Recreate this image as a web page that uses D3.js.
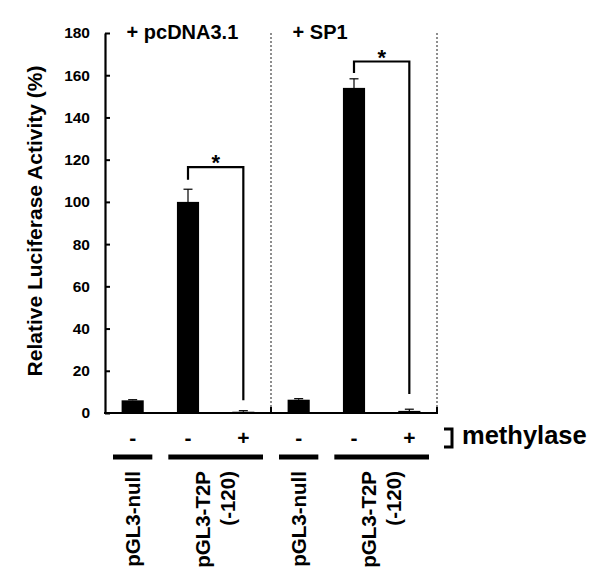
<!DOCTYPE html>
<html><head><meta charset="utf-8">
<script src="https://cdn.jsdelivr.net/npm/d3@7"></script>
<style>
body{margin:0;background:#fff}
text{font-family:"Liberation Sans",Arial,sans-serif;font-weight:bold;fill:#000}
</style>
</head><body><svg id="c" width="600" height="586"></svg>
<script>
// ---- data ----
const panels = ["+ pcDNA3.1", "+ SP1"];
const barIds = ["null-a", "t2p-minus-a", "t2p-plus-a", "null-b", "t2p-minus-b", "t2p-plus-b"];
const barPanel = [0, 0, 0, 1, 1, 1];
const methylase = ["-", "-", "+", "-", "-", "+"];
const values = [6.0, 100.0, 0.6, 6.3, 154.0, 1.0];
const errors = [0.3, 6.0, 0.5, 0.5, 4.3, 0.8];
const yTicks = [0, 20, 40, 60, 80, 100, 120, 140, 160, 180];
const constructLabels = [["pGL3-null"], ["pGL3-T2P", "(-120)"], ["pGL3-null"], ["pGL3-T2P", "(-120)"]];
const constructFrom = [0, 1, 3, 4];
const constructTo = [0, 2, 3, 5];
const sigFrom = [1, 4];
const sigTo = [2, 5];
const sigTop = [116.5, 166.5];
const sigLeftEnd = [110.5, 161];
const sigRightEnd = [6, 9];
const sigLabel = ["*", "*"];
const yTitle = "Relative Luciferase Activity (%)";
const methylaseLabel = "methylase";

// ---- scales ----
const svg = d3.select("#c");
const x = d3.scaleBand().domain(barIds).range([105, 437]).paddingInner(0.6).paddingOuter(0.3);
const y = d3.scaleLinear().domain([0, 180]).range([413, 33]);
const step = x.step();
const slotLeft = i => x(barIds[i]) - x.paddingOuter() * step;
const cx = i => x(barIds[i]) + x.bandwidth() / 2;

// dotted panel dividers
const dividerX = panels.map((p, pi) => {
  const last = barPanel.lastIndexOf(pi);
  return slotLeft(last) + step;
});
svg.selectAll(".div").data(dividerX).join("line")
  .attr("x1", d => d).attr("x2", d => d)
  .attr("y1", y(180)).attr("y2", y(0) - 5)
  .attr("stroke", "#444").attr("stroke-width", 1.2).attr("stroke-dasharray", "2,2");

// bars
svg.selectAll(".bar").data(values).join("rect")
  .attr("x", (d, i) => x(barIds[i]))
  .attr("width", x.bandwidth())
  .attr("y", d => y(d))
  .attr("height", d => y(0) - y(d))
  .attr("fill", "#000");

// error bars
const eg = svg.append("g").attr("stroke", "#000").attr("stroke-width", 1.2);
values.forEach((v, i) => {
  eg.append("line").attr("x1", cx(i)).attr("x2", cx(i)).attr("y1", y(v)).attr("y2", y(v + errors[i]));
  eg.append("line").attr("x1", cx(i) - 4.5).attr("x2", cx(i) + 4.5).attr("y1", y(v + errors[i])).attr("y2", y(v + errors[i]));
});

// y axis
const ya = svg.append("g").attr("transform", "translate(105,0)")
  .call(d3.axisLeft(y).tickValues(yTicks).tickSizeInner(-5).tickSizeOuter(0).tickPadding(15));
ya.select(".domain").attr("stroke-width", 2.2);
ya.selectAll(".tick line").attr("stroke-width", 2);
ya.selectAll(".tick text").style("font-size", "15.5px").style("font-family", "'Liberation Sans',Arial,sans-serif").style("font-weight", "bold");

// x baseline
svg.append("line").attr("x1", 104).attr("x2", 437 + 1).attr("y1", y(0)).attr("y2", y(0))
  .attr("stroke", "#000").attr("stroke-width", 2.2);
svg.selectAll(".xt").data(dividerX).join("line")
  .attr("x1", d => d).attr("x2", d => d).attr("y1", y(0)).attr("y2", y(0) - 6)
  .attr("stroke", "#000").attr("stroke-width", 2);

// y title
svg.append("text").attr("transform", `translate(42,${(y(0) + y(180)) / 2 - 2}) rotate(-90)`)
  .attr("text-anchor", "middle").style("font-size", "21px").text(yTitle);

// panel headers
svg.selectAll(".hdr").data(panels).join("text")
  .attr("x", (d, pi) => x(barIds[barPanel.indexOf(pi)]) + 5)
  .attr("y", 39).style("font-size", "20px").text(d => d);

// significance brackets
const sg = svg.append("g").attr("fill", "none").attr("stroke", "#000").attr("stroke-width", 2.2);
sigFrom.forEach((f, k) => {
  const x1 = cx(f), x2 = cx(sigTo[k]);
  sg.append("path").attr("d", `M${x1},${y(sigLeftEnd[k])}V${y(sigTop[k])}H${x2}V${y(sigRightEnd[k])}`);
  svg.append("text").attr("x", (x1 + x2) / 2).attr("y", y(sigTop[k]) + 3)
    .attr("text-anchor", "middle").style("font-size", "22px").text(sigLabel[k]);
});

// methylase -/+ row
svg.selectAll(".meth").data(methylase).join("text")
  .attr("x", (d, i) => cx(i)).attr("y", 445)
  .attr("text-anchor", "middle").style("font-size", "21px").text(d => d);

// bracket + methylase label
svg.append("path").attr("d", "M444,429H452V447H444").attr("fill", "none").attr("stroke", "#000").attr("stroke-width", 3);
svg.append("text").attr("x", 462).attr("y", 444).style("font-size", "25.5px").text(methylaseLabel);

// construct underlines and labels
constructLabels.forEach((lab, k) => {
  const a = slotLeft(constructFrom[k]) + 8;
  const b = slotLeft(constructTo[k]) + step - 8;
  svg.append("line").attr("x1", a).attr("x2", b).attr("y1", 457).attr("y2", 457)
    .attr("stroke", "#000").attr("stroke-width", 5);
  const mid = (a + b) / 2;
  const n = lab.length;
  lab.forEach((line, j) => {
    const c = mid + (j - (n - 1) / 2) * 25;
    svg.append("text").attr("transform", `translate(${c + 7},471) rotate(-90)`)
      .attr("text-anchor", "end").style("font-size", "20.5px").text(line);
  });
});
</script>
</body></html>
